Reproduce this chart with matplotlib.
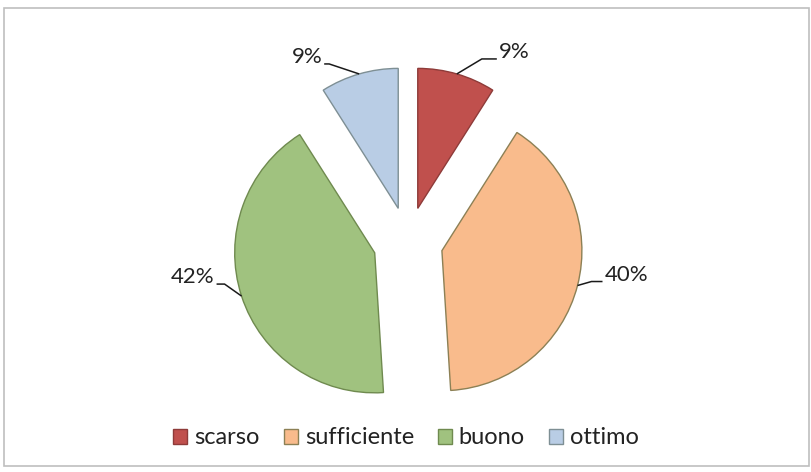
import numpy as np
import matplotlib
matplotlib.use("Agg")
import matplotlib.pyplot as plt
from matplotlib.patches import Rectangle

plt.rcParams["font.family"] = ["Lato", "DejaVu Sans"]

# ── Data ───────────────────────────────────────────────────────────────────────

CATEGORIES  = ["scarso", "sufficiente", "buono", "ottimo"]
PERCENTS    = [9, 40, 42, 9]
FILL_COLORS = ["#C0504D", "#F9BB8C", "#A0C27F", "#B9CDE5"]
EDGE_COLORS = ["#8E3B39", "#8C8055", "#6F8A4F", "#7E8F94"]

# ── Layout (pixels, y up) ──────────────────────────────────────────────────────

W, H    = 812, 472
CENTER  = (408, H - 242)
RADIUS  = 140
EXPLODE = 0.25          # fraction of the radius

# leader lines: elbow offset from the arc point, then horizontal run to the label
LEADERS = [
    ((25, 15), 15),    # scarso
    ((14, 4), 11),     # sufficiente
    ((-17, 12), -8),   # buono
    ((-30, 10), -5),   # ottimo
]
LABEL_RAISE = 7

fig = plt.figure(figsize=(W / 100, H / 100), dpi=100)
ax = fig.add_axes([0, 0, 1, 1])

# pie's explode is an absolute offset in data units
wedges, _ = ax.pie(
    PERCENTS,
    explode=[EXPLODE * RADIUS] * len(PERCENTS),
    radius=RADIUS,
    center=CENTER,
    startangle=90,
    counterclock=False,
    colors=FILL_COLORS,
    wedgeprops=dict(linewidth=1.0),
)
for w, ec in zip(wedges, EDGE_COLORS):
    w.set_edgecolor(ec)

ax.set_xlim(0, W)
ax.set_ylim(0, H)
ax.set_aspect("equal")
ax.axis("off")

# ── Percentage labels with leader lines ───────────────────────────────────────

for w, pct, ((ex, ey), run) in zip(wedges, PERCENTS, LEADERS):
    mid = np.deg2rad((w.theta1 + w.theta2) / 2)
    cx, cy = w.center
    x0, y0 = cx + w.r * np.cos(mid), cy + w.r * np.sin(mid)
    x1, y1 = x0 + ex, y0 + ey
    x2 = x1 + run
    ax.plot([x0, x1, x2], [y0, y1, y1], color="#1a1a1a", lw=1.1,
            solid_capstyle="butt", zorder=4)
    ha = "left" if run > 0 else "right"
    tx = x2 + (2 if run > 0 else -2)
    ax.text(tx, y1 + LABEL_RAISE, f"{pct}%", ha=ha, va="center",
            fontsize=16, color="#222222")

# ── Legend ─────────────────────────────────────────────────────────────────────

fig.legend(wedges, CATEGORIES, loc="center", bbox_to_anchor=(0.5, 1 - 438 / H),
           ncol=4, frameon=False, fontsize=17, handlelength=0.6,
           handleheight=0.6, handletextpad=0.3, columnspacing=1.0,
           labelcolor="#222222")

# chart border
fig.add_artist(Rectangle((4 / W, 1 - 466 / H), 805 / W, 458 / H,
                         transform=fig.transFigure, fill=False,
                         edgecolor="#BFBFBF", linewidth=1.2))

fig.savefig("out.png", dpi=100)
